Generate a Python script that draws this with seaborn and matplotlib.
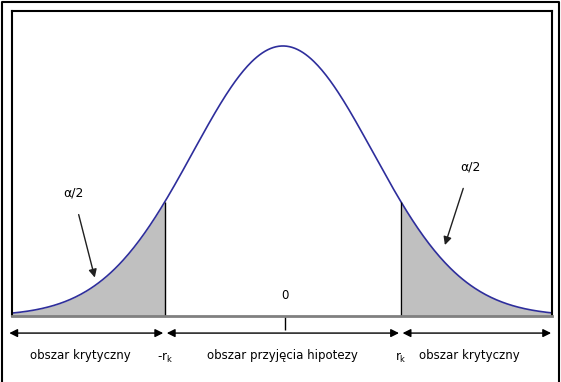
import numpy as np
import pandas as pd
import matplotlib
matplotlib.use('Agg')
import matplotlib.pyplot as plt
from matplotlib.lines import Line2D
import seaborn as sns

# rozkład normalny i wartość krytyczna
mean = 0.0
sd = 1.0
r_k = 1.31
x_range = (-3.01, 2.99)

region_labels = ['obszar krytyczny', 'obszar przyjęcia hipotezy', 'obszar krytyczny']
crit_labels = ['-r$_\\mathrm{k}$', 'r$_\\mathrm{k}$']
alpha_label = 'α/2'

x = np.linspace(x_range[0], x_range[1], 400)
pdf = np.exp(-0.5 * ((x - mean) / sd) ** 2) / (sd * np.sqrt(2 * np.pi))
df = pd.DataFrame({'x': x, 'f': pdf})

sns.set_theme(style='white')
plt.rcParams['font.family'] = ['DejaVu Sans']
plt.rcParams['text.color'] = 'black'

fig = plt.figure(figsize=(5.61, 3.82), dpi=100)
ax = fig.add_axes([12 / 561, 66 / 382, 540 / 561, 305 / 382])

left = df[df.x <= -r_k]
right = df[df.x >= r_k]
ax.fill_between(left.x, 0, left.f, color='#c0c0c0', lw=0)
ax.fill_between(right.x, 0, right.f, color='#c0c0c0', lw=0)
sns.lineplot(data=df, x='x', y='f', ax=ax, color='#2e2e9c', lw=1.2)

f_crit = np.exp(-0.5 * (r_k / sd) ** 2) / (sd * np.sqrt(2 * np.pi))
ax.vlines([-r_k, r_k], 0, f_crit, color='black', lw=1)

ax.set_xlim(*x_range)
ax.set_ylim(0, 0.4506)
ax.set_xlabel('')
ax.set_ylabel('')
ax.set_yticks([])
ax.set_xticks([mean + 0.02])
ax.set_xticklabels([''])
ax.tick_params(axis='x', direction='out', length=10, width=1, color='black', bottom=True)
for s in ['left', 'top', 'right']:
    ax.spines[s].set_color('black')
    ax.spines[s].set_linewidth(1.5)
ax.spines['bottom'].set_color('#808080')
ax.spines['bottom'].set_linewidth(2)

ax.text(mean + 0.02, 0.031, '0', ha='center', va='center', fontsize=8.5, color='black',
        bbox=dict(facecolor='white', edgecolor='none', pad=3))

# strzałki obszarów pod osią
tr = ax.get_xaxis_transform()
y_arr = -0.056
bounds = [(x_range[0] - 0.03, -r_k - 0.02), (-r_k + 0.02, r_k - 0.02), (r_k + 0.02, x_range[1] - 0.01)]
for (a, b) in bounds:
    ax.annotate('', xy=(b, y_arr), xytext=(a, y_arr), xycoords=tr, textcoords=tr,
                arrowprops=dict(arrowstyle='<|-|>', color='black', lw=1,
                                mutation_scale=12, shrinkA=0, shrinkB=0))

y_lab = -0.131
centers = [-2.25, 0.0, 2.07]
for c, lab in zip(centers, region_labels):
    ax.text(c, y_lab, lab, transform=tr, ha='center', va='center', fontsize=8.5, color='black')
ax.text(-r_k, y_lab - 0.005, crit_labels[0], transform=tr, ha='center', va='center',
        fontsize=8.5, color='black')
ax.text(r_k, y_lab - 0.005, crit_labels[1], transform=tr, ha='center', va='center',
        fontsize=8.5, color='black')

# α/2 z strzałkami
ax.annotate(alpha_label, xy=(-2.09, 0.0568), xytext=(-2.33, 0.1814),
            ha='center', va='center', fontsize=9, color='black',
            bbox=dict(facecolor='white', edgecolor='none', pad=3),
            arrowprops=dict(arrowstyle='-|>', color='#202020', lw=1,
                            mutation_scale=12, shrinkA=8, shrinkB=0))
ax.annotate(alpha_label, xy=(1.80, 0.1048), xytext=(2.08, 0.2198),
            ha='center', va='center', fontsize=9, color='black',
            bbox=dict(facecolor='white', edgecolor='none', pad=3),
            arrowprops=dict(arrowstyle='-|>', color='#202020', lw=1,
                            mutation_scale=12, shrinkA=8, shrinkB=0))

# zewnętrzna ramka
fx0, fx1, fy1 = 2 / 561, 559 / 561, 1 - 1.5 / 382
fig.add_artist(Line2D([fx0, fx0, fx1, fx1], [0, fy1, fy1, 0], color='black', lw=1.5))

fig.savefig('out.png', dpi=100)
